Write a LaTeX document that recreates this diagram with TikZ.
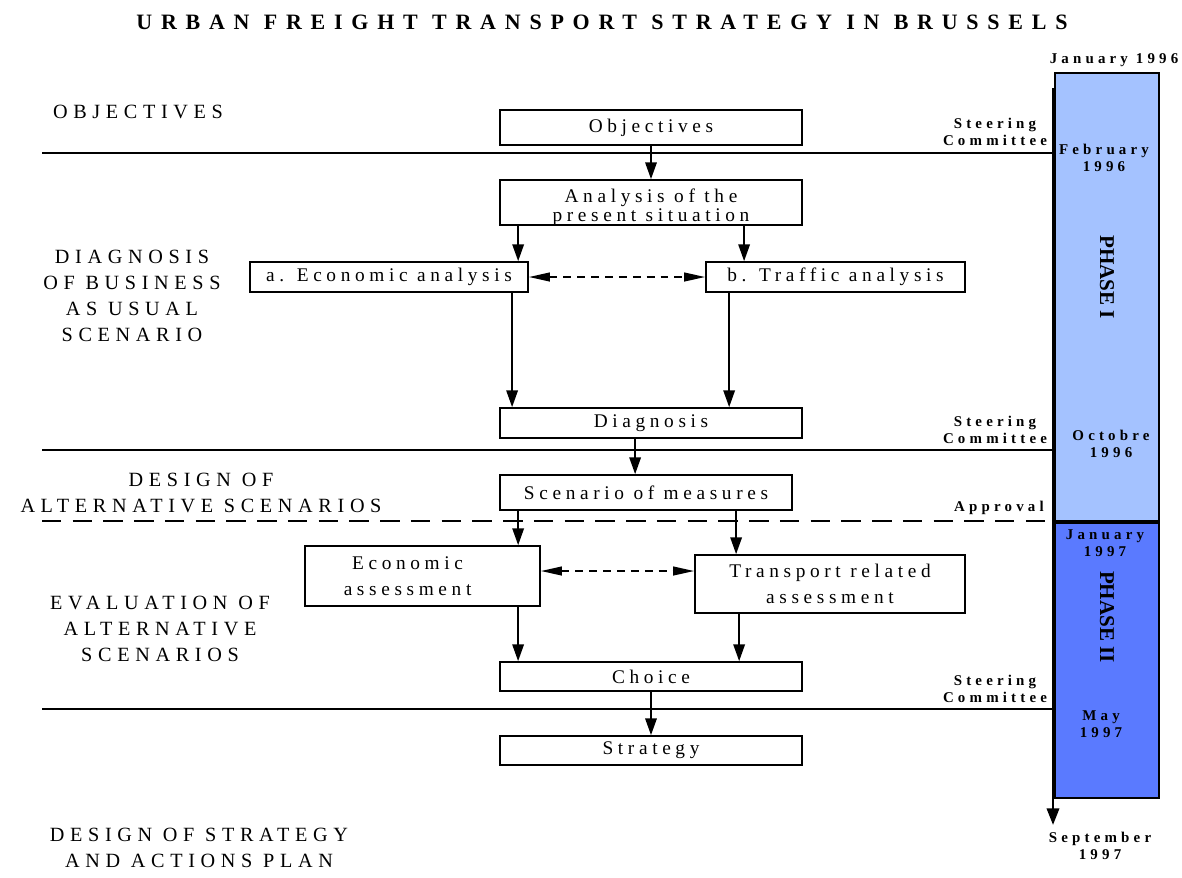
\documentclass[tikz,border=0pt]{standalone}
\usepackage{fontspec}
\setmainfont{Liberation Serif}
\newfontfamily\boxfont[LetterSpace=24]{Liberation Serif}
\newfontfamily\sidefont[LetterSpace=28]{Liberation Serif}
\newfontfamily\datefont[LetterSpace=28]{Liberation Serif}
\newfontfamily\titlefont[LetterSpace=40]{Liberation Serif}
\usepackage{tikz}
\usetikzlibrary{arrows.meta}
\definecolor{PhaseOne}{RGB}{164,194,255}
\definecolor{PhaseTwo}{RGB}{90,122,255}

\begin{document}
\begin{tikzpicture}[x=0.02cm, y=-0.02cm,
    stage/.style={rectangle, draw, line width=1pt, inner sep=0pt, align=center,
                  font=\boxfont\fontsize{11}{14.8}\selectfont},
    side/.style={align=center, inner sep=0pt, font=\sidefont\fontsize{11.5}{14.8}\selectfont},
    date/.style={align=center, inner sep=0pt, font=\datefont\bfseries\fontsize{8.5}{9.7}\selectfont},
    phase/.style={rotate=-90, inner sep=0pt, font=\bfseries\fontsize{12}{12}\selectfont},
    arrow/.style={-{Triangle[length=9.5pt, width=6.5pt]}, line width=1pt},
    darrow/.style={{Triangle[length=12pt, width=5pt]}-{Triangle[length=12pt, width=5pt]},
                   line width=1pt, dash pattern=on 4.5pt off 3.4pt},
    sep/.style={line width=0.9pt}
]
\useasboundingbox (0,0) rectangle (1182,877);

% Title
\node[inner sep=0pt, font=\titlefont\bfseries\fontsize{12.5}{13}\selectfont] (title) at (602,22)
    {URBAN FREIGHT TRANSPORT STRATEGY IN BRUSSELS};

% Phase bars and time axis
\draw[line width=1.3pt, fill=PhaseOne] (1055,73) rectangle (1159,521);
\draw[line width=1.3pt, fill=PhaseTwo] (1055,523) rectangle (1159,798);
\draw[line width=1.5pt, -{Triangle[length=9.5pt, width=7pt]}] (1053,88) -- (1053,825);
\node[phase] (phase1) at (1107,277) {PHASE I};
\node[phase] (phase2) at (1107,617) {PHASE II};

% Dates
\node[date] (jan96) at (1114,60) {January 1996};
\node[date] (feb96) at (1104,158) {February\\1996};
\node[date] (oct96) at (1111,444) {Octobre\\1996};
\node[date] (jan97) at (1105,543) {January\\1997};
\node[date] (may97) at (1101,724) {May\\1997};
\node[date] (sep97) at (1100,846) {September\\1997};

% Separators
\draw[sep] (42,153) -- (1053,153);
\draw[sep] (42,450) -- (1053,450);
\draw[sep, dash pattern=on 11pt off 6.5pt] (42,521) -- (1053,521);
\draw[sep] (42,709) -- (1053,709);
\node[date] (steer1) at (995,132) {Steering\\Committee};
\node[date] (steer2) at (995,430) {Steering\\Committee};
\node[date] (approval) at (999,508) {Approval};
\node[date] (steer3) at (995,689) {Steering\\Committee};

% Stages on the left
\node[side] (l_obj) at (138,112) {OBJECTIVES};
\node[side] (l_diag) at (132,296) {DIAGNOSIS\\OF BUSINESS\\AS USUAL\\SCENARIO};
\node[side] (l_design) at (201,493) {DESIGN OF\\ALTERNATIVE SCENARIOS};
\node[side] (l_eval) at (160,629) {EVALUATION OF\\ALTERNATIVE\\SCENARIOS};
\node[side] (l_strat) at (199,848) {DESIGN OF STRATEGY\\AND ACTIONS PLAN};

% Boxes
\node[stage, minimum width=6.04cm, minimum height=0.7cm] (obj) at (651,127.5) {Objectives};
\node[stage, minimum width=6.04cm, minimum height=0.9cm,
      label={[align=center, inner sep=0pt, yshift=-2.5pt, font=\boxfont\fontsize{11}{10.8}\selectfont]center:{Analysis of the\\present situation}}]
    (analysis) at (651,202.5) {};
\node[stage, minimum width=5.56cm, minimum height=0.6cm] (econ) at (389,277) {a. Economic analysis};
\node[stage, minimum width=5.18cm, minimum height=0.6cm] (traffic) at (835.5,277) {b. Traffic analysis};
\node[stage, minimum width=6.04cm, minimum height=0.6cm] (diag) at (651,423) {Diagnosis};
\node[stage, minimum width=5.84cm, minimum height=0.7cm] (scenario) at (646,492.5) {Scenario of measures};
\node[stage, minimum width=4.7cm, minimum height=1.2cm] (econ_ass) at (422.5,576)
    {Economic\hspace*{17pt}\\assessment\hspace*{17pt}};
\node[stage, minimum width=5.4cm, minimum height=1.16cm] (transp_ass) at (830,584)
    {Transport related\\assessment};
\node[stage, minimum width=6.04cm, minimum height=0.58cm] (choice) at (651,676.5) {Choice};
\node[stage, minimum width=6.04cm, minimum height=0.58cm] (strategy) at (651,750.5) {Strategy};

% Arrows
\draw[arrow] (obj) -- (analysis);
\draw[arrow] ([xshift=0.38cm]analysis.south west) coordinate (a1) -- (a1 |- econ.north);
\draw[arrow] ([xshift=4.9cm]analysis.south west) coordinate (a2) -- (a2 |- traffic.north);
\draw[darrow] (econ.east) -- (traffic.west);
\draw[arrow] ([xshift=5.26cm]econ.south west) coordinate (a3) -- (a3 |- diag.north);
\draw[arrow] ([xshift=0.48cm]traffic.south west) coordinate (a4) -- (a4 |- diag.north);
\draw[arrow] ([xshift=2.72cm]diag.south west) coordinate (a5) -- (a5 |- scenario.north);
\draw[arrow] ([xshift=0.38cm]scenario.south west) coordinate (a6) -- (a6 |- econ_ass.north);
\draw[arrow] ([xshift=4.74cm]scenario.south west) coordinate (a7) -- (a7 |- transp_ass.north);
\draw[darrow] ([yshift=0.1cm]econ_ass.east) coordinate (a8) -- (a8 -| transp_ass.west);
\draw[arrow] ([xshift=4.28cm]econ_ass.south west) coordinate (a9) -- (a9 |- choice.north);
\draw[arrow] ([xshift=0.9cm]transp_ass.south west) coordinate (a10) -- (a10 |- choice.north);
\draw[arrow] (choice) -- (strategy);

\end{tikzpicture}
\end{document}
